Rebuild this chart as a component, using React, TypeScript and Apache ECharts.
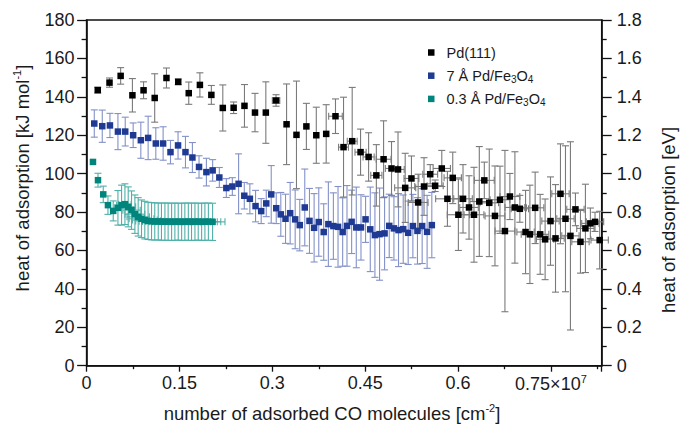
import React, { useEffect, useRef } from "react";
import * as echarts from "echarts";

// ---------- data (x in units of 10^7 cm^-2 as on the axis, y in kJ/mol) ----------
const SERIES_NAMES = ["Pd(111)", "7 Å Pd/Fe3O4", "0.3 Å Pd/Fe3O4"];
const LEGEND_LABELS = ["Pd(111)", "7 Å Pd/Fe{sub|3}O{sub|4}", "0.3 Å Pd/Fe{sub|3}O{sub|4}"];

const PD111_X = [0.018, 0.037, 0.055, 0.074, 0.092, 0.11, 0.129, 0.148, 0.165, 0.183, 0.2015, 0.22, 0.2375, 0.255, 0.272, 0.2895, 0.306, 0.323, 0.339, 0.355, 0.371, 0.387, 0.402, 0.415, 0.429, 0.4425, 0.4555, 0.468, 0.4797, 0.4925, 0.503, 0.5146, 0.5247, 0.5355, 0.545, 0.555, 0.563, 0.5737, 0.5828, 0.5914, 0.6005, 0.608, 0.6177, 0.6257, 0.6343, 0.6424, 0.6504, 0.6596, 0.6677, 0.6757, 0.6837, 0.6918, 0.6998, 0.709, 0.716, 0.7245, 0.7326, 0.7406, 0.7493, 0.7574, 0.7654, 0.7735, 0.7815, 0.7896, 0.7977, 0.8057, 0.8137, 0.8212, 0.8287];
const PD111_Y = [143.5, 147.4, 150.9, 140.8, 143.4, 139.4, 149.8, 147.8, 141.9, 146.2, 141.0, 134.2, 134.3, 135.3, 131.8, 131.8, 138.1, 125.7, 120.2, 124.6, 120.0, 120.7, 129.9, 113.8, 116.9, 111.2, 108.7, 99.1, 107.5, 102.7, 102.2, 92.6, 97.5, 85.0, 93.3, 99.7, 93.7, 102.7, 86.9, 97.8, 78.6, 86.9, 82.4, 78.6, 85.5, 96.5, 84.8, 78.0, 86.4, 70.1, 88.1, 82.4, 81.7, 69.6, 68.4, 82.2, 68.4, 65.8, 75.3, 66.3, 89.5, 76.5, 67.6, 81.4, 64.5, 71.5, 74.1, 74.9, 65.4];
const PD111_YERR = [1.5, 2.4, 4.3, 8.7, 4.4, 12.6, 5.2, 1.5, 5.8, 6.3, 4.9, 12.0, 3.0, 11.1, 10.0, 16.0, 3.0, 21.0, 28.0, 12.0, 14.6, 15.2, 9.0, 26.0, 28.0, 12.0, 12.6, 16.0, 20.0, 14.0, 19.5, 18.0, 11.7, 14.7, 15.0, 5.0, 3.0, 9.4, 14.3, 13.4, 18.6, 17.8, 16.5, 24.7, 28.6, 9.5, 28.0, 26.0, 17.5, 42.0, 12.0, 29.0, 7.0, 21.7, 25.6, 18.6, 20.8, 21.0, 23.0, 28.0, 26.0, 38.0, 49.0, 8.5, 16.3, 23.0, 8.0, 5.0, 15.0];
const PD111_XERR = [0, 0, 0, 0, 0, 0, 0, 0, 0, 0, 0, 0, 0, 0, 0, 0, 0.006, 0, 0, 0, 0, 0, 0.011, 0.008, 0.008, 0.009, 0.009, 0.009, 0.012, 0.01, 0.01, 0.017, 0.012, 0.016, 0.015, 0.012, 0.013, 0.014, 0.019, 0.014, 0.018, 0.015, 0.015, 0.016, 0.015, 0.016, 0.015, 0.016, 0.016, 0.016, 0.016, 0.016, 0.014, 0.014, 0.014, 0.014, 0.014, 0.014, 0.014, 0.014, 0.014, 0.014, 0.014, 0.014, 0.014, 0.014, 0.014, 0.014, 0.014];

const PD7_X = [0.0124, 0.0253, 0.0377, 0.0506, 0.0624, 0.0752, 0.0876, 0.0994, 0.1118, 0.1236, 0.1355, 0.1477, 0.1597, 0.1709, 0.1816, 0.1935, 0.2036, 0.2144, 0.2257, 0.2354, 0.2455, 0.2547, 0.2637, 0.2729, 0.282, 0.2902, 0.2982, 0.3063, 0.3137, 0.3213, 0.3288, 0.3369, 0.3443, 0.3524, 0.36, 0.3675, 0.375, 0.383, 0.3905, 0.3986, 0.4061, 0.4136, 0.4206, 0.4281, 0.4356, 0.4432, 0.4506, 0.4582, 0.4657, 0.4732, 0.4813, 0.4888, 0.4964, 0.5038, 0.5114, 0.5194, 0.527, 0.5344, 0.542, 0.55, 0.5576];
const PD7_Y = [126.1, 124.7, 125.1, 121.9, 121.9, 120.0, 117.4, 118.6, 115.7, 115.7, 111.2, 114.7, 111.2, 108.4, 103.5, 100.8, 101.7, 98.0, 92.5, 93.3, 94.7, 88.5, 86.9, 83.1, 80.5, 84.5, 89.2, 82.0, 78.8, 76.5, 79.4, 76.2, 73.2, 82.4, 75.4, 71.8, 74.8, 69.6, 73.7, 72.7, 72.3, 69.6, 72.8, 74.9, 72.0, 72.0, 76.2, 71.0, 68.0, 68.5, 68.9, 72.8, 71.5, 70.6, 71.1, 69.2, 72.7, 70.2, 72.7, 69.7, 73.2];
const PD7_YERR = [7.1, 8.4, 6.3, 9.4, 7.5, 6.4, 9.4, 11.3, 8.2, 8.7, 6.1, 7.1, 8.2, 7.8, 5.8, 7.2, 5.6, 5.2, 4.9, 4.6, 15.6, 6.9, 7.8, 8.2, 6.5, 6.9, 15.0, 8.0, 11.4, 12.8, 16.0, 15.3, 13.4, 20.0, 16.9, 17.8, 17.8, 14.7, 22.0, 17.3, 21.0, 17.8, 21.0, 16.5, 21.0, 17.0, 12.0, 22.0, 22.0, 24.0, 19.0, 16.5, 16.5, 19.0, 17.8, 16.5, 16.5, 17.3, 19.5, 19.0, 17.0];
const PD7_XERR = PD7_X.map(() => 0);

const PD03_X = [0.0103, 0.0184, 0.0269, 0.0345, 0.043, 0.0506, 0.0565, 0.0619, 0.0672, 0.0726, 0.078, 0.0833, 0.0887, 0.094, 0.0993, 0.1049, 0.1101, 0.1157, 0.1209, 0.1265, 0.1317, 0.1373, 0.1426, 0.148, 0.1535, 0.1587, 0.1643, 0.1695, 0.175, 0.1803, 0.1858, 0.1911, 0.1967, 0.2035];
const PD03_Y = [106.1, 96.6, 89.2, 83.6, 80.6, 82.2, 83.6, 84.1, 82.7, 81.0, 78.9, 77.5, 76.5, 75.8, 75.4, 75.2, 75.1, 75.1, 75.0, 75.0, 75.0, 74.9, 75.0, 75.0, 74.9, 75.0, 75.0, 74.9, 75.0, 75.0, 74.9, 75.0, 75.0, 74.9];
const PD03_YERR = [0, 3.6, 4.3, 4.8, 5.2, 9.0, 10.4, 10.6, 10.4, 10.0, 10.0, 10.0, 9.8, 9.8, 9.7, 9.7, 9.7, 9.6, 9.7, 9.7, 9.7, 9.7, 9.7, 9.6, 9.7, 9.7, 9.7, 9.7, 9.7, 9.6, 9.7, 9.7, 9.7, 9.7];
const PD03_XERR = [0, 0, 0, 0, 0, 0.005, 0.008, 0.01, 0.012, 0.014, 0.016, 0.018, 0.02, 0.02, 0.02, 0.02, 0.02, 0.02, 0.02, 0.02, 0.02, 0.02, 0.02, 0.02, 0.02, 0.02, 0.02, 0.02, 0.02, 0.02, 0.02, 0.02, 0.02, 0.02];

const X_TICK_LABELS = ["0", "0.15", "0.3", "0.45", "0.6", "0.75×10{sup|7}"];

// ---------- styles ----------
const FONT = "'Liberation Sans', Arial, Helvetica, sans-serif";
const INK = "#1a1a1a";
const MARKER_COLORS = ["#000000", "#1f3a93", "#00857c"];
const ERR_COLORS = ["#7a7a7a", "#8391c8", "#4fb0a8"];
const CAP = 3.5;

function errorSeries(idx: number, xs: number[], ys: number[], ye: number[], xe: number[]) {
  const color = ERR_COLORS[idx];
  return {
    type: "custom",
    name: SERIES_NAMES[idx] + " error",
    silent: true,
    z: 2,
    data: xs.map((x, i) => [x, ys[i], ye[i], xe[i]]),
    encode: { x: 0, y: 1 },
    renderItem: (_params: any, api: any) => {
      const xv = api.value(0);
      const yv = api.value(1);
      const yerr = api.value(2);
      const xerr = api.value(3);
      const c = api.coord([xv, yv]);
      const style = { stroke: color, lineWidth: 1.1, fill: null };
      const children: any[] = [];
      if (yerr > 0) {
        const top = api.coord([xv, yv + yerr])[1];
        const bot = api.coord([xv, yv - yerr])[1];
        children.push({ type: "line", shape: { x1: c[0], y1: top, x2: c[0], y2: bot }, style });
        children.push({ type: "line", shape: { x1: c[0] - CAP, y1: top, x2: c[0] + CAP, y2: top }, style });
        children.push({ type: "line", shape: { x1: c[0] - CAP, y1: bot, x2: c[0] + CAP, y2: bot }, style });
      }
      if (xerr > 0) {
        const l = api.coord([xv - xerr, yv])[0];
        const r = api.coord([xv + xerr, yv])[0];
        children.push({ type: "line", shape: { x1: l, y1: c[1], x2: r, y2: c[1] }, style });
        children.push({ type: "line", shape: { x1: l, y1: c[1] - CAP, x2: l, y2: c[1] + CAP }, style });
        children.push({ type: "line", shape: { x1: r, y1: c[1] - CAP, x2: r, y2: c[1] + CAP }, style });
      }
      return { type: "group", children };
    },
  };
}

function markerSeries(idx: number, xs: number[], ys: number[]) {
  return {
    type: "scatter",
    name: SERIES_NAMES[idx],
    symbol: "rect",
    symbolSize: 6.5,
    z: 3,
    itemStyle: { color: MARKER_COLORS[idx], opacity: 1 },
    data: xs.map((x, i) => [x, ys[i]]),
  };
}

export default function App() {
  const ref = useRef<HTMLDivElement>(null);
  useEffect(() => {
    if (!ref.current) return;
    const chart = echarts.init(ref.current, null, { renderer: "svg" });
    const axisLineStyle = { color: "#111", width: 1.5 };
    const tickStyle = { color: "#111", width: 1.3 };
    const labelBase = { color: INK, fontSize: 18, fontFamily: FONT };
    const supRich = { sup: { fontSize: 11, fontFamily: FONT, color: INK, padding: [0, 0, 10, 0] } };

    const legendGraphics: any[] = [];
    LEGEND_LABELS.forEach((lab, i) => {
      const cy = 52.5 + 23.2 * i;
      legendGraphics.push({
        type: "rect",
        shape: { x: 428, y: cy - 3.25, width: 6.5, height: 6.5 },
        style: { fill: MARKER_COLORS[i] },
      });
      legendGraphics.push({
        type: "text",
        x: 446.5,
        y: cy,
        style: {
          text: lab,
          fontSize: 14.5,
          fontFamily: FONT,
          fill: INK,
          align: "left",
          verticalAlign: "middle",
          rich: { sub: { fontSize: 10, fontFamily: FONT, fill: INK, padding: [7, 0, 0, 0] } },
        },
      });
    });

    const option: any = {
      animation: false,
      textStyle: { fontFamily: FONT },
      grid: {
        left: 86.6,
        right: 78.3,
        top: 20,
        bottom: 68.3,
        show: true,
        borderColor: "#111",
        borderWidth: 1.5,
        backgroundColor: "transparent",
        outerBoundsMode: "none",
      },
      xAxis: {
        type: "value",
        min: 0,
        max: 0.832,
        interval: 0.15,
        axisLine: { show: true, onZero: false, lineStyle: axisLineStyle },
        axisTick: { show: true, inside: false, length: 6, lineStyle: tickStyle },
        minorTick: { show: true, splitNumber: 2, length: 3.5, lineStyle: tickStyle },
        splitLine: { show: false },
        minorSplitLine: { show: false },
        axisLabel: {
          ...labelBase,
          margin: 8,
          showMaxLabel: false,
          formatter: (v: number) => {
            const k = Math.round(v / 0.15);
            if (Math.abs(v - k * 0.15) > 1e-6) return "";
            return X_TICK_LABELS[k] ?? "";
          },
          rich: supRich,
        },
      },
      yAxis: [
        {
          type: "value",
          position: "left",
          min: 0,
          max: 180,
          interval: 20,
          axisLine: { show: true, onZero: false, lineStyle: axisLineStyle },
          axisTick: { show: true, inside: false, length: 9.5, lineStyle: tickStyle },
          minorTick: { show: true, splitNumber: 2, length: 5, lineStyle: tickStyle },
          splitLine: { show: false },
          minorSplitLine: { show: false },
          axisLabel: { ...labelBase, margin: 12 },
        },
        {
          type: "value",
          position: "right",
          min: 0,
          max: 1.8,
          interval: 0.2,
          axisLine: { show: true, onZero: false, lineStyle: axisLineStyle },
          axisTick: { show: true, inside: false, length: 10, lineStyle: tickStyle },
          minorTick: { show: true, splitNumber: 2, length: 5, lineStyle: tickStyle },
          splitLine: { show: false },
          minorSplitLine: { show: false },
          axisLabel: {
            ...labelBase,
            margin: 15,
            formatter: (v: number) => (Math.abs(v) < 1e-9 ? "0" : v.toFixed(1)),
          },
        },
      ],
      graphic: [
        {
          type: "text",
          x: 22,
          y: 178,
          rotation: Math.PI / 2,
          style: {
            text: "heat of adsorption [kJ mol{sup|-1}]",
            fontSize: 18.5,
            fontFamily: FONT,
            fill: INK,
            align: "center",
            verticalAlign: "middle",
            rich: { sup: { fontSize: 11, fontFamily: FONT, fill: INK, padding: [0, 0, 10, 0] } },
          },
        },
        {
          type: "text",
          x: 668,
          y: 220,
          rotation: Math.PI / 2,
          style: {
            text: "heat of adsorption [eV]",
            fontSize: 18.5,
            fontFamily: FONT,
            fill: INK,
            align: "center",
            verticalAlign: "middle",
          },
        },
        {
          type: "text",
          x: 332,
          y: 413,
          style: {
            text: "number of adsorbed CO molecules [cm{sup|-2}]",
            fontSize: 18.5,
            fontFamily: FONT,
            fill: INK,
            align: "center",
            verticalAlign: "middle",
            rich: { sup: { fontSize: 11, fontFamily: FONT, fill: INK, padding: [0, 0, 10, 0] } },
          },
        },
        ...legendGraphics,
      ],
      series: [
        errorSeries(2, PD03_X, PD03_Y, PD03_YERR, PD03_XERR),
        errorSeries(1, PD7_X, PD7_Y, PD7_YERR, PD7_XERR),
        errorSeries(0, PD111_X, PD111_Y, PD111_YERR, PD111_XERR),
        markerSeries(2, PD03_X, PD03_Y),
        markerSeries(1, PD7_X, PD7_Y),
        markerSeries(0, PD111_X, PD111_Y),
      ],
    };
    chart.setOption(option);
    return () => chart.dispose();
  }, []);
  return (
    <div
      ref={ref}
      style={{ position: "absolute", left: 0, top: 0, width: 680, height: 434, background: "#fff" }}
    />
  );
}
